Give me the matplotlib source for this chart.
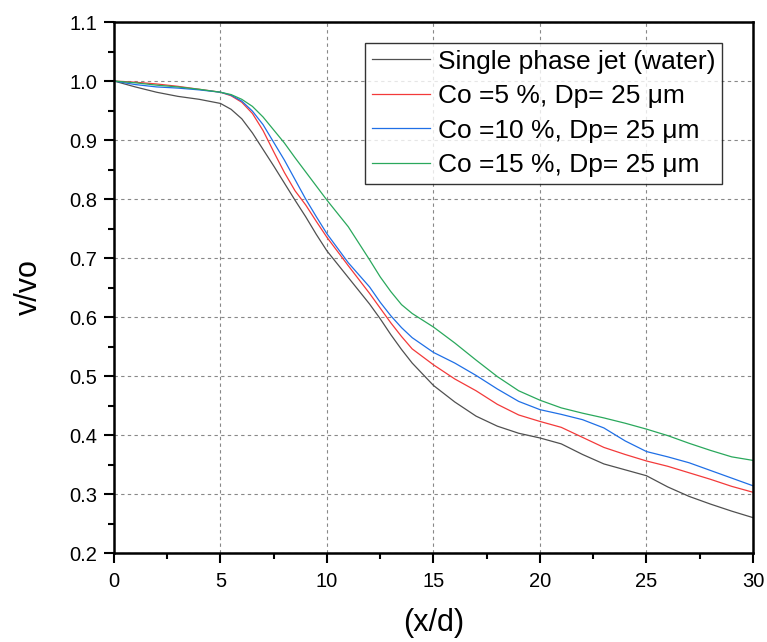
import matplotlib
matplotlib.use("Agg")
import matplotlib.pyplot as plt
from matplotlib.ticker import MultipleLocator

plt.rcParams["font.family"] = ["Liberation Sans", "DejaVu Sans"]

# x/d positions (denser where the curves bend)
x_d = [0, 1, 2, 3, 4, 5, 5.5, 6, 6.5, 7, 7.5, 8, 8.5, 9, 9.5, 10, 11, 12,
       12.5, 13, 13.5, 14, 15, 16, 17, 18, 19, 20, 21, 22, 23, 24, 25, 26,
       27, 28, 29, 30]

v_water = [1.000, 0.990, 0.981, 0.974, 0.969, 0.962, 0.952, 0.936, 0.912,
           0.884, 0.856, 0.827, 0.798, 0.770, 0.740, 0.712, 0.667, 0.622,
           0.597, 0.570, 0.545, 0.522, 0.484, 0.456, 0.432, 0.415, 0.403,
           0.395, 0.385, 0.367, 0.351, 0.341, 0.331, 0.312, 0.296, 0.283,
           0.271, 0.260]

v_co5 = [1.000, 0.998, 0.995, 0.991, 0.986, 0.981, 0.975, 0.964, 0.945,
         0.916, 0.880, 0.845, 0.814, 0.790, 0.762, 0.735, 0.687, 0.640,
         0.615, 0.590, 0.567, 0.546, 0.519, 0.495, 0.475, 0.452, 0.434,
         0.423, 0.413, 0.396, 0.379, 0.367, 0.356, 0.347, 0.336, 0.325,
         0.313, 0.303]

v_co10 = [1.000, 0.994, 0.990, 0.988, 0.985, 0.981, 0.976, 0.966, 0.949,
          0.926, 0.896, 0.866, 0.833, 0.800, 0.770, 0.741, 0.692, 0.651,
          0.625, 0.602, 0.582, 0.565, 0.540, 0.522, 0.501, 0.478, 0.457,
          0.443, 0.435, 0.426, 0.412, 0.390, 0.372, 0.363, 0.353, 0.340,
          0.327, 0.314]

v_co15 = [1.000, 0.997, 0.993, 0.990, 0.986, 0.981, 0.977, 0.969, 0.957,
          0.939, 0.917, 0.895, 0.870, 0.846, 0.822, 0.798, 0.753, 0.697,
          0.668, 0.643, 0.621, 0.606, 0.583, 0.556, 0.527, 0.499, 0.475,
          0.459, 0.446, 0.437, 0.429, 0.420, 0.410, 0.399, 0.386, 0.374,
          0.363, 0.357]

labels = ["Single phase jet (water)",
          "Co =5 %, Dp= 25 \u03bcm",
          "Co =10 %, Dp= 25 \u03bcm",
          "Co =15 %, Dp= 25 \u03bcm"]
colors = ["#505050", "#f33a3a", "#1f6fe6", "#2aa85c"]

fig = plt.figure(figsize=(7.67, 6.42), dpi=100)
ax = fig.add_axes([0.1486, 0.1386, 0.8331, 0.8271])

for ys, lab, c in zip([v_water, v_co5, v_co10, v_co15], labels, colors):
    ax.plot(x_d, ys, color=c, lw=0.9, label=lab)

ax.set_xlim(0, 30)
ax.set_ylim(0.2, 1.1)
ax.xaxis.set_major_locator(MultipleLocator(5))
ax.xaxis.set_minor_locator(MultipleLocator(2.5))
ax.yaxis.set_major_locator(MultipleLocator(0.1))
ax.yaxis.set_minor_locator(MultipleLocator(0.05))
ax.yaxis.set_major_formatter(plt.FuncFormatter(lambda v, p: f"{v:.1f}"))

ax.grid(True, which="major", color="#888888", lw=0.8, ls=(0, (3, 3)))
ax.set_axisbelow(True)

for s in ax.spines.values():
    s.set_linewidth(1.8)

ax.tick_params(which="major", direction="out", length=7, width=1.5,
               labelsize=14.5)
ax.tick_params(which="minor", direction="out", length=4, width=1.5)
ax.tick_params(axis="y", pad=5)
ax.tick_params(axis="x", pad=7)

ax.set_xlabel("(x/d)", fontsize=22, labelpad=12)
ax.set_ylabel("v/vo", fontsize=22, labelpad=18)

leg = ax.legend(loc="upper right", bbox_to_anchor=(0.9515, 0.9605),
                fontsize=19, frameon=True, fancybox=False,
                handlelength=2.2, handletextpad=0.3, labelspacing=0.4,
                borderpad=0.25, borderaxespad=0.0)
leg.get_frame().set_edgecolor("black")
leg.get_frame().set_linewidth(1.0)

fig.savefig("out.png", dpi=100)
